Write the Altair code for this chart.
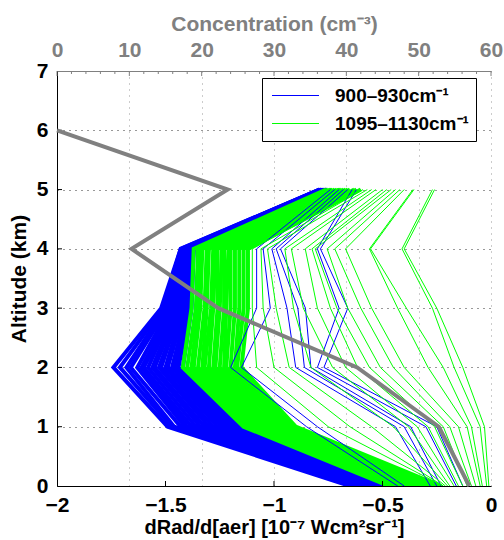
import altair as alt
import pandas as pd

# ---------------- data ----------------
altitudes = [0, 1, 2, 3, 4, 5]

# dense band of 900-930 cm-1 profiles (value at altitude 0..5 km)
blue_dense = [
    [-0.65, -1.49, -1.74, -1.52, -1.43, -0.79],
    [-0.64, -1.47, -1.71, -1.51, -1.43, -0.79],
    [-0.63, -1.46, -1.68, -1.50, -1.42, -0.79],
    [-0.62, -1.43, -1.66, -1.49, -1.42, -0.785],
    [-0.61, -1.41, -1.63, -1.48, -1.42, -0.78],
    [-0.60, -1.40, -1.61, -1.47, -1.41, -0.78],
    [-0.59, -1.38, -1.60, -1.46, -1.41, -0.78],
    [-0.58, -1.36, -1.58, -1.46, -1.41, -0.775],
    [-0.57, -1.34, -1.56, -1.45, -1.40, -0.775],
    [-0.56, -1.32, -1.55, -1.44, -1.40, -0.77],
    [-0.55, -1.30, -1.53, -1.43, -1.40, -0.77],
    [-0.54, -1.28, -1.52, -1.43, -1.39, -0.77],
    [-0.53, -1.26, -1.50, -1.42, -1.39, -0.765],
    [-0.52, -1.24, -1.49, -1.41, -1.39, -0.765],
    [-0.51, -1.22, -1.47, -1.40, -1.38, -0.76],
    [-0.50, -1.20, -1.46, -1.40, -1.38, -0.76],
    [-0.49, -1.18, -1.45, -1.39, -1.38, -0.76],
    [-0.48, -1.16, -1.44, -1.39, -1.37, -0.755],
    [-0.47, -1.14, -1.42, -1.38, -1.37, -0.755],
]
# dense band of 1095-1130 cm-1 profiles
green_dense = [
    [-0.47, -1.14, -1.42, -1.38, -1.37, -0.76],
    [-0.46, -1.12, -1.40, -1.36, -1.35, -0.75],
    [-0.44, -1.11, -1.38, -1.35, -1.34, -0.74],
    [-0.43, -1.10, -1.37, -1.34, -1.33, -0.735],
    [-0.42, -1.08, -1.35, -1.32, -1.31, -0.73],
    [-0.40, -1.07, -1.33, -1.31, -1.30, -0.72],
    [-0.39, -1.05, -1.32, -1.29, -1.28, -0.71],
    [-0.37, -1.04, -1.30, -1.28, -1.27, -0.70],
    [-0.36, -1.03, -1.28, -1.26, -1.26, -0.695],
    [-0.35, -1.01, -1.27, -1.25, -1.24, -0.69],
    [-0.33, -1.00, -1.25, -1.23, -1.23, -0.68],
    [-0.32, -0.98, -1.23, -1.22, -1.21, -0.67],
    [-0.30, -0.97, -1.22, -1.20, -1.20, -0.66],
    [-0.29, -0.95, -1.20, -1.18, -1.18, -0.65],
    [-0.27, -0.94, -1.18, -1.16, -1.16, -0.63],
    [-0.25, -0.92, -1.17, -1.14, -1.14, -0.62],
    [-0.23, -0.90, -1.15, -1.12, -1.12, -0.60],
]
# isolated 900-930 cm-1 profiles
blue_sparse = [
    [-0.13, -0.25, -0.77, -0.66, -0.786, -0.62],
    [-0.16, -0.30, -0.80, -0.70, -0.80, -0.64],
    [-0.23, -0.37, -0.83, -0.855, -0.97, -0.66],
    [-0.25, -0.40, -0.86, -0.89, -0.99, -0.68],
    [-0.28, -0.44, -0.90, -0.94, -1.01, -0.70],
    [-0.40, -0.80, -1.15, -1.017, -1.05, -0.72],
    [-0.43, -0.85, -1.20, -1.08, -1.08, -0.74],
]
# isolated 1095-1130 cm-1 profiles
green_sparse = [
    [-0.01, -0.03, -0.13, -0.25, -0.40, -0.26],
    [-0.02, -0.05, -0.17, -0.27, -0.41, -0.27],
    [-0.04, -0.09, -0.22, -0.39, -0.555, -0.355],
    [-0.05, -0.11, -0.29, -0.43, -0.56, -0.36],
    [-0.07, -0.15, -0.40, -0.55, -0.67, -0.40],
    [-0.09, -0.19, -0.45, -0.60, -0.72, -0.42],
    [-0.11, -0.22, -0.51, -0.66, -0.755, -0.44],
    [-0.13, -0.26, -0.56, -0.71, -0.81, -0.46],
    [-0.15, -0.29, -0.615, -0.74, -0.825, -0.48],
    [-0.17, -0.34, -0.67, -0.80, -0.856, -0.50],
    [-0.19, -0.38, -0.73, -0.865, -0.92, -0.53],
    [-0.20, -0.45, -0.83, -0.91, -0.95, -0.55],
    [-0.21, -0.55, -0.93, -0.99, -1.03, -0.57],
    [-0.22, -0.65, -1.00, -1.05, -1.06, -0.59],
    [-0.22, -0.75, -1.08, -1.10, -1.10, -0.60],
]

conc_altitudes = [0, 1, 2, 3, 4, 5, 6]
conc_values = [57.0, 52.8, 41.5, 22.3, 10.3, 23.6, 0.0]

series_names = ["900\u2013930cm\u207b\u00b9", "1095\u20131130cm\u207b\u00b9"]
series_colors = ["#0000ff", "#00ff00"]

x_tick_values = [-2, -1.5, -1, -0.5, 0]
y_tick_values = [0, 1, 2, 3, 4, 5, 6, 7]
conc_tick_values = [0, 10, 20, 30, 40, 50, 60]
conc_minor_values = [2, 4, 6, 8, 12, 14, 16, 18, 22, 24, 26, 28, 32, 34, 36, 38,
                     42, 44, 46, 48, 52, 54, 56, 58]

# ---------------- build tables ----------------
def to_long(lines, series, tag):
    rows = []
    for i, vals in enumerate(lines):
        for a, v in zip(altitudes, vals):
            rows.append({"line": f"{tag}{i}", "series": series, "alt": a, "val": v})
    return pd.DataFrame(rows)

df_bd = to_long(blue_dense, series_names[0], "bd")
df_gd = to_long(green_dense, series_names[1], "gd")
df_bs = to_long(blue_sparse, series_names[0], "bs")
df_gs = to_long(green_sparse, series_names[1], "gs")
df_conc = pd.DataFrame({"alt": conc_altitudes, "conc": conc_values})
df_xt = pd.DataFrame({"val": x_tick_values[1:-1]})
df_yt = pd.DataFrame({"alt": y_tick_values[1:-1]})
df_ct = pd.DataFrame({"conc": conc_tick_values})
df_cm = pd.DataFrame({"conc": conc_minor_values})

W, H = 434, 415
FONT = "Liberation Sans"
FS = 21

x_scale = alt.Scale(domain=[-2, 0], nice=False, zero=False)
y_scale = alt.Scale(domain=[0, 7], nice=False, zero=False)
c_scale = alt.Scale(domain=[0, 60], nice=False, zero=False)
color_scale = alt.Scale(domain=series_names, range=series_colors)

bottom_axis = alt.Axis(
    orient="bottom", values=x_tick_values, format="~g", grid=False, ticks=False, tickSize=0,
    title="dRad/d[aer] [10\u207b\u2077 Wcm\u00b2sr\u207b\u00b9]",
    titleFont=FONT, titleFontSize=20, titleFontWeight="bold", titleColor="black",
    labelFont=FONT, labelFontSize=FS, labelFontWeight="bold", labelColor="black",
    labelPadding=8, titlePadding=2, domainColor="black", domainWidth=1,
    labelFlush=False,
)
y_axis = alt.Axis(
    values=y_tick_values, grid=True, gridColor="#000000", gridDash=[1, 5],
    gridOpacity=0.8, ticks=False, tickSize=0,
    title="Altitude (km)", titleFont=FONT, titleFontSize=FS, titleFontWeight="bold",
    titleColor="black", titlePadding=7,
    labelFont=FONT, labelFontSize=FS, labelFontWeight="bold", labelColor="black",
    labelPadding=9, domainColor="black", domainWidth=1, labelFlush=False,
)
top_axis = alt.Axis(
    orient="top", values=conc_tick_values, grid=True, gridColor="#999999",
    gridDash=[1, 5], ticks=False, tickSize=0,
    title="Concentration (cm\u207b\u00b3)", titleFont=FONT, titleFontSize=FS,
    titleFontWeight="bold", titleColor="#808080", titlePadding=5,
    labelFont=FONT, labelFontSize=FS, labelFontWeight="bold", labelColor="#808080",
    labelPadding=11, domainColor="#808080", domainWidth=1, labelFlush=False,
)
legend = alt.Legend(
    title=None, orient="none", legendX=205, legendY=7,
    symbolType="M-2.35,0L2.35,0", symbolSize=400, symbolStrokeWidth=1,
    symbolOffset=16,
    labelFont=FONT, labelFontSize=19, labelFontWeight="bold", labelColor="black",
    labelOffset=29, rowPadding=7, padding=7,
    strokeColor="black", fillColor="white",
)

def line_layer(df, width):
    return alt.Chart(df).mark_line(strokeWidth=width, clip=True).encode(
        x=alt.X("val:Q", scale=x_scale, axis=bottom_axis),
        y=alt.Y("alt:Q", scale=y_scale, axis=y_axis),
        color=alt.Color("series:N", scale=color_scale, legend=legend),
        detail="line:N",
        order="alt:Q",
    )

left_ticks = alt.Chart(df_yt).mark_rule(color="black", strokeWidth=1).encode(
    y=alt.Y("alt:Q", scale=y_scale, axis=y_axis),
    x=alt.value(0), x2=alt.value(5),
)
bottom_ticks = alt.Chart(df_xt).mark_rule(color="black", strokeWidth=1).encode(
    x=alt.X("val:Q", scale=x_scale, axis=bottom_axis),
    y=alt.value(H), y2=alt.value(H - 5),
)

layer_rad = alt.layer(
    line_layer(df_bd, 4),
    line_layer(df_gd, 4),
    line_layer(df_bs, 1),
    line_layer(df_gs, 1),
    left_ticks,
    bottom_ticks,
)

conc_line = alt.Chart(df_conc).mark_line(color="#808080", strokeWidth=4).encode(
    x=alt.X("conc:Q", scale=c_scale, axis=top_axis),
    y=alt.Y("alt:Q", scale=y_scale, axis=y_axis),
    order="alt:Q",
)
top_major = alt.Chart(df_ct).mark_rule(color="#808080", strokeWidth=1).encode(
    x=alt.X("conc:Q", scale=c_scale, axis=top_axis),
    y=alt.value(0), y2=alt.value(5),
)
top_minor = alt.Chart(df_cm).mark_rule(color="#808080", strokeWidth=1).encode(
    x=alt.X("conc:Q", scale=c_scale, axis=top_axis),
    y=alt.value(0), y2=alt.value(3),
)
layer_conc = alt.layer(conc_line, top_major, top_minor)

chart = alt.layer(layer_rad, layer_conc).resolve_scale(x="independent").properties(
    width=W, height=H,
    padding={"left": 57, "top": 71, "right": 13, "bottom": 54},
    autosize=alt.AutoSizeParams(type="none"),
    background="white",
).configure_view(stroke=None)

chart.save("out.html", embed_options={"renderer": "svg", "actions": False})
